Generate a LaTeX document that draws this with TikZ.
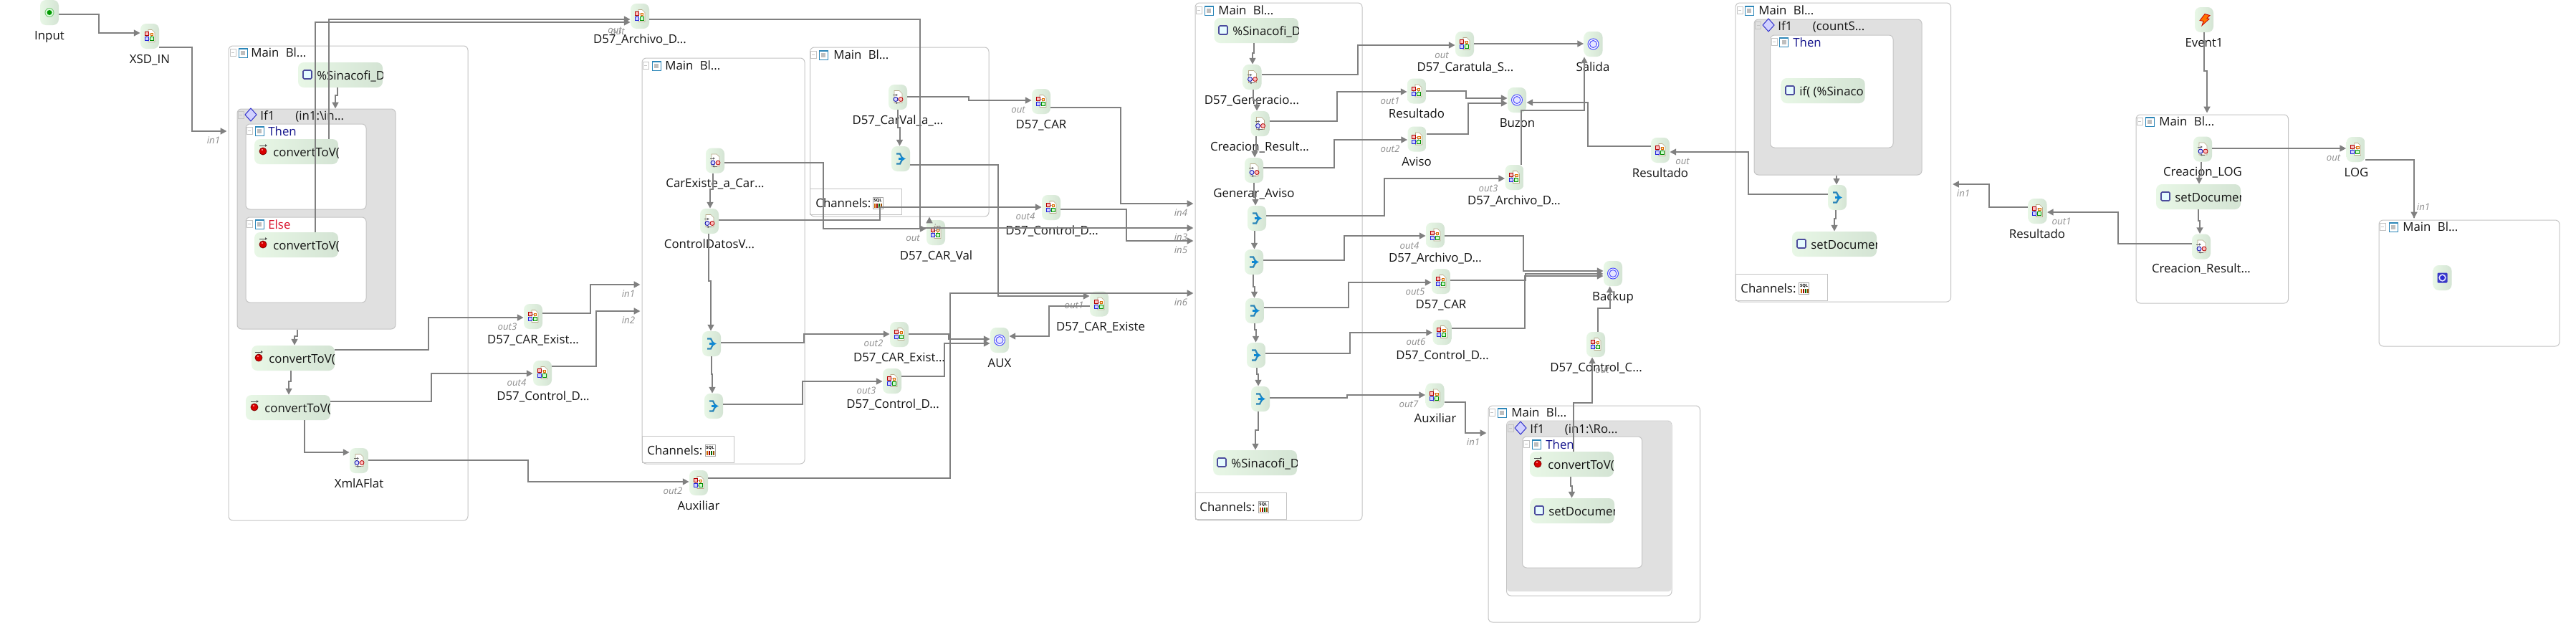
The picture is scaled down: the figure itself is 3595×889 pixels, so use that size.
\documentclass[tikz,border=0pt]{standalone}
\usepackage{fontspec}
\setmainfont{Open Sans}
\usetikzlibrary{arrows.meta,fit}
\definecolor{linegray}{HTML}{808080}
\definecolor{blockline}{HTML}{C4C4C4}
\definecolor{ifgrey}{HTML}{E0E0E0}
\definecolor{greenA}{HTML}{E8F7E6}
\definecolor{greenB}{HTML}{D4E4D4}
\definecolor{portgray}{HTML}{8E8E8E}
\definecolor{thennavy}{HTML}{14148C}
\definecolor{elsered}{HTML}{D8102A}
\definecolor{iconblue}{HTML}{2C86B8}
\definecolor{pagetan}{HTML}{B8A888}
\tikzset{
  x=0.5pt,y=-0.5pt,
  mainblock/.style={draw=blockline,line width=0.5pt,fill=white,rounded corners=3pt,inner sep=0pt},
  ifblock/.style={draw=blockline,line width=0.5pt,fill=ifgrey,rounded corners=3pt,inner sep=0pt},
  thenblock/.style={draw=blockline,line width=0.5pt,fill=white,rounded corners=3pt,inner sep=0pt},
  chanbox/.style={draw=blockline,line width=0.4pt,inner sep=0pt},
  gbox/.style={left color=greenA,right color=greenB,rounded corners=4pt,inner sep=0pt,draw=none},
  ibox/.style={gbox,minimum width=13pt,minimum height=17.5pt},
  lbltext/.style={font=\fontsize{8.4}{10}\selectfont,text=black!92,inner sep=0pt,anchor=base},
  headtext/.style={font=\fontsize{8.4}{10}\selectfont,text=black!92,inner sep=0pt,anchor=base west},
  porttext/.style={font=\fontsize{6.6}{8}\selectfont\itshape,text=portgray,inner sep=0pt,anchor=base},
  conn/.style={draw=linegray,line width=1pt,-{Triangle[length=4.4pt,width=4.4pt]}},
  gap/.style={shorten >=1pt},
}
% ---- icons (local px coordinates)
\newcommand{\icomap}[1]{\begin{scope}[shift={(#1)}]
 \draw[draw=pagetan,fill=white,line width=.3pt] (-2,-9)--(3,-9)--(7,-5)--(7,8)--(-2,8)--cycle;
 \draw[gray!70,line width=.25pt] (-4.5,-1)--(-4.5,1) (-2,-3)--(2,-3)--(2,1) (-2,3.5)--(0,3.5);
 \draw[red!70!black,fill=red!25,line width=.35pt] (-7,-6) rectangle (-2,-1);
 \draw[blue!70!gray,fill=blue!18,line width=.35pt] (-7,1) rectangle (-2,6);
 \draw[green!55!black,fill=green!20,line width=.35pt] (0,1) rectangle (5,6);
 \draw[orange!85!black,fill=orange!25,line width=.3pt] (1,-4) rectangle (4.5,-1);
\end{scope}}
\newcommand{\icotrans}[1]{\begin{scope}[shift={(#1)}]
 \draw[draw=pagetan,fill=white,line width=.3pt] (-5,-9)--(2,-9)--(6,-5)--(6,8)--(-5,8)--cycle;
 \draw[gray!80!black,line width=.35pt,-{Latex[length=1.5pt,width=1.8pt]}] (-7,-3)--(0,-3);
 \draw[gray!80!black,line width=.35pt,-{Latex[length=1.5pt,width=1.8pt]}] (3,8)--(-4,8);
 \draw[blue!65!black,fill=blue!15,line width=.4pt] (-3,3) circle (3);
 \draw[red!70!black,fill=red!25,line width=.4pt] (4,3) circle (3);
\end{scope}}
\newcommand{\icomerge}[1]{\begin{scope}[shift={(#1)}]
 \draw[color=iconblue,line width=1.1pt] (-6,-7)--(-1,-7)--(2,-1) (-6,7)--(-1,7)--(2,1);
 \draw[color=cyan!70!blue,line width=1.1pt,-{Latex[length=3pt,width=4pt]}] (-3,0)--(7,0);
\end{scope}}
\newcommand{\icodbl}[1]{\begin{scope}[shift={(#1)}]
 \draw[blue!70!white,fill=white,line width=.5pt] (0,0) circle (7.5);
 \draw[blue!70!white,fill=blue!10,line width=.5pt] (0,0) circle (5);
\end{scope}}
\newcommand{\icoinput}[1]{\begin{scope}[shift={(#1)}]
 \draw[green!60!black!50,fill=green!12,line width=.5pt] (0,0) circle (6);
 \fill[green!60!black] (0,0) circle (3.5);
\end{scope}}
\newcommand{\icored}[1]{\begin{scope}[shift={(#1)}]
 \draw[black!70,line width=.4pt,-{Latex[length=1.5pt,width=2pt]}] (-5,-8)--(6,-8);
 \draw[red!50!black,fill=red!85!black,line width=.4pt] (0,0) circle (5);
 \fill[red!35] (-1,-2) circle (1.2);
\end{scope}}
\newcommand{\icosq}[1]{\begin{scope}[shift={(#1)}]
 \draw[blue!45!black!70,fill=blue!14!cyan!10,line width=.8pt,rounded corners=.7pt] (-6,-6) rectangle (6,6);
\end{scope}}
\newcommand{\icoblock}[1]{\begin{scope}[shift={(#1)}]
 \draw[color=iconblue,fill=white,line width=.5pt] (-6,-6) rectangle (6,7);
 \fill[color=iconblue] (-6,-6) rectangle (6,-4.5);
 \fill[gray!50] (-3,-2) rectangle (3,4);
\end{scope}}
\newcommand{\icocoll}[1]{\begin{scope}[shift={(#1)}]
 \draw[blockline,line width=.35pt] (-4,-5) rectangle (4,5);
 \draw[blockline,line width=.35pt] (-2,0)--(2,0);
\end{scope}}
\newcommand{\icodiam}[1]{\begin{scope}[shift={(#1)}]
 \draw[blue!60!gray,fill=blue!18,line width=.5pt] (-8,0)--(0,-9)--(8,0)--(0,9)--cycle;
\end{scope}}
\newcommand{\icosql}[1]{\begin{scope}[shift={(#1)}]
 \draw[gray!70,fill=white,line width=.3pt] (-7,-8) rectangle (7,8);
 \node[inner sep=0pt,font=\fontsize{2.9}{3}\selectfont\bfseries] at (0,-3.5) {SQL};
 \fill[orange!80!black] (-5,1) rectangle (-3,7);
 \fill[red!60!black] (-2,1) rectangle (0,7);
 \fill[green!40!black] (1,1) rectangle (3,7);
 \fill[orange!60!black] (4,1) rectangle (6,7);
\end{scope}}
\newcommand{\icobolt}[1]{\begin{scope}[shift={(#1)}]
 \draw[red!80!black,fill=orange!90!red,line width=.4pt] (1,-8)--(8,-6)--(4,-2)--(7,-1)--(-3,8)--(-1,2)--(-6,1)--cycle;
\end{scope}}
\newcommand{\icostop}[1]{\begin{scope}[shift={(#1)}]
 \fill[blue!55!gray,rounded corners=.6pt] (-7,-7) rectangle (7,7);
 \fill[blue!10] (0,0) circle (5.2);
 \fill[blue!65!gray] (0,0) circle (3.4);
\end{scope}}
% ---- node builders
\newcommand{\inode}[3]{\node[ibox] (#1) at (#2) {}; #3{#1.center}}
\newcommand{\wnode}[8]{%
 \pgfmathsetmacro{\wnb}{#3+35}
 \node[gbox,fit={(#2,#3)(#4,\wnb)}] (#1) {};
 \pgfmathsetmacro{\wnic}{#3+17}
 #5{#6,\wnic}
 \pgfmathsetmacro{\wnt}{#3+24}
 \begin{scope}\clip (#2,#3) rectangle (#4,\wnb);
 \node[headtext] (#1-t) at (#7,\wnt) {#8};
 \end{scope}}
\newcommand{\lbl}[4]{\pgfmathsetmacro{\lbb}{#3+6}\node[lbltext] (#1-l) at (#2,\lbb) {#4};}
\newcount\portn
\newcommand{\port}[3]{\global\advance\portn by 1 \pgfmathsetmacro{\ptb}{#2+5}\node[porttext] (port\the\portn) at (#1,\ptb) {#3};}
\newcommand{\mainhead}[6]{% name, xcoll, xicon, xtext, y, text
 \icocoll{#2,#5}\icoblock{#3,#5}\pgfmathsetmacro{\hdb}{#5+6}\node[headtext] (#1-h) at (#4,\hdb) {#6};}
\newcommand{\thenhead}[7]{\icocoll{#2,#5}\icoblock{#3,#5}\pgfmathsetmacro{\hdb}{#5+7}\node[headtext,text=#7] (#1-h) at (#4,\hdb) {#6};}
\newcommand{\ifhead}[8]{% name, xcoll, xdiam, xif, y, xcond, cond
 \icocoll{#2,#5}\icodiam{#3,#5}\pgfmathsetmacro{\hdb}{#5+7}\node[headtext] (#1-h) at (#4,\hdb) {#8};\node[headtext] (#1-c) at (#6,\hdb) {#7};}
\newcommand{\chantxt}[4]{\pgfmathsetmacro{\chb}{#3+6}\node[headtext] (#1-t) at (#2,\chb) {Channels:};\icosql{#4,#3}}
\newcommand{\mbl}{Main\hspace{2.5pt} Bl...}
\begin{document}
\begin{tikzpicture}
\useasboundingbox (0,0) rectangle (3595,889);
\fill[white] (0,0) rectangle (3595,889);
% ===== containers
\node[mainblock,fit={(319,64)(653,726)}] (m1) {};
\mainhead{m1}{325}{339}{350}{73}{\mbl}
\node[ifblock,fit={(331,152)(552,459)}] (if1) {};
\ifhead{if1}{336}{350}{363}{160}{412}{(in1:\textbackslash in...}{If1}
\node[thenblock,fit={(343,173)(511,292)}] (th1) {};
\thenhead{th1}{348}{362}{374}{182}{Then}{thennavy}
\node[thenblock,fit={(343,303)(511,422)}] (el1) {};
\thenhead{el1}{348}{362}{374}{312}{Else}{elsered}

\node[mainblock,fit={(896,81)(1123,647)}] (m2) {};
\mainhead{m2}{901}{916}{928}{91}{\mbl}
\node[chanbox,fit={(896,608)(1024,645)}] (ch2) {};
\chantxt{ch2}{903}{628}{991}

\node[mainblock,fit={(1130.5,66)(1380,302)}] (m3) {};
\mainhead{m3}{1135}{1149}{1163}{76}{\mbl}
\node[chanbox,fit={(1130.5,263)(1258.5,299)}] (ch3) {};
\chantxt{ch3}{1138}{283}{1225}

\node[mainblock,fit={(1668,4)(1901,726)}] (m4) {};
\mainhead{m4}{1673}{1687}{1700}{14}{\mbl}
\node[chanbox,fit={(1668,687)(1795,724)}] (ch4) {};
\chantxt{ch4}{1674}{707}{1763}

\node[mainblock,fit={(2077,566)(2372.5,868)}] (m6) {};
\mainhead{m6}{2082}{2096}{2109}{575}{\mbl}
\node[thenblock,fit={(2102.6,587)(2333,831)}] (if6) {};
\fill[ifgrey,rounded corners=2pt] (2103,587.5) rectangle (2332.5,825);
\ifhead{if6}{2108}{2122}{2135}{597}{2183.5}{(in1:\textbackslash Ro...}{If1}
\node[thenblock,fit={(2124.6,609)(2291.6,792)}] (th6) {};
\thenhead{th6}{2130}{2144}{2157}{619}{Then}{thennavy}

\node[mainblock,fit={(2422,4)(2722.5,421)}] (m5) {};
\mainhead{m5}{2428}{2441}{2454}{14}{\mbl}
\node[ifblock,fit={(2448,27)(2682,244)}] (if5) {};
\ifhead{if5}{2453.5}{2468}{2481}{35}{2529.5}{(countS...}{If1}
\node[thenblock,fit={(2470.5,49)(2642,206)}] (th5) {};
\thenhead{th5}{2476}{2489.5}{2502}{58}{Then}{thennavy}
\node[chanbox,fit={(2422,382)(2550,419)}] (ch5) {};
\chantxt{ch5}{2429}{402}{2517.6}

\node[mainblock,fit={(2981,160)(3193.5,423)}] (m7) {};
\mainhead{m7}{2986}{3000}{3013}{169}{\mbl}
\node[mainblock,fit={(3320,307)(3572,483)}] (m8) {};
\mainhead{m8}{3325}{3340}{3353}{316}{\mbl}

% ===== wide nodes
\wnode{sin1}{416}{87}{534}{\icosq}{429}{442}{\%Sinacofi\_D}
\wnode{cthen}{355}{194}{472}{\icored}{367}{381}{convertToV(}
\wnode{celse}{355}{324}{472}{\icored}{367}{381}{convertToV(}
\wnode{cva}{351}{482}{467}{\icored}{361}{375}{convertToV(}
\wnode{cvb}{343}{551}{461}{\icored}{355}{369}{convertToV(}
\wnode{sin2}{1694.5}{25}{1812}{\icosq}{1707}{1720}{\%Sinacofi\_D}
\wnode{sin3}{1693}{628}{1810}{\icosq}{1705}{1718}{\%Sinacofi\_D}
\wnode{cv6}{2135}{630}{2252}{\icored}{2146}{2160}{convertToV(}
\wnode{sd6}{2135.7}{695}{2253}{\icosq}{2148}{2161}{setDocumen}
\wnode{if5n}{2485.6}{109}{2602.6}{\icosq}{2498}{2511}{if( (\%Sinaco}
\wnode{sd5}{2501}{323}{2619}{\icosq}{2514}{2527}{setDocumen}
\wnode{sd7}{3009}{257}{3127}{\icosq}{3022}{3035}{setDocumen}

% ===== icon nodes
\inode{input}{69,17.5}{\icoinput}
\inode{xsd}{209,50.5}{\icomap}
\inode{arch1}{893,22.5}{\icomap}
\inode{carexA}{744,441.5}{\icomap}
\inode{ctlA}{757,520.5}{\icomap}
\inode{xmlaf}{501,642.5}{\icotrans}
\inode{auxA}{975,673.5}{\icomap}
\inode{carexi}{998,224}{\icotrans}
\inode{ctldat}{990,308.5}{\icotrans}
\inode{mrg1}{993,479.5}{\icomerge}
\inode{mrg2}{996,566.5}{\icomerge}
\inode{carexB}{1255,466.5}{\icomap}
\inode{ctlB}{1245,531.5}{\icomap}
\inode{aux}{1395,474.5}{\icodbl}
\inode{carexist}{1534,424}{\icomap}
\inode{carval}{1253,135.5}{\icotrans}
\inode{mrg3}{1257,221.5}{\icomerge}
\inode{car}{1453,141.5}{\icomap}
\inode{ctlC}{1467,289.5}{\icomap}
\inode{carv}{1306,324.5}{\icomap}
\inode{gen}{1747.5,107.5}{\icotrans}
\inode{cre}{1758.5,172.5}{\icotrans}
\inode{gav}{1750,237.5}{\icotrans}
\inode{ma}{1754,304.5}{\icomerge}
\inode{mb}{1750,365.5}{\icomerge}
\inode{mc}{1751,433.5}{\icomerge}
\inode{md}{1753,495.5}{\icomerge}
\inode{me}{1759,556.5}{\icomerge}
\inode{cars}{2044,61.5}{\icomap}
\inode{salida}{2223.5,61.5}{\icodbl}
\inode{res1}{1977,127}{\icomap}
\inode{aviso}{1977.5,194}{\icomap}
\inode{buzon}{2117,139.5}{\icodbl}
\inode{arch3}{2113.5,247.5}{\icomap}
\inode{res2}{2317,209.5}{\icomap}
\inode{arch4}{2003,328}{\icomap}
\inode{car5}{2011,392.5}{\icomap}
\inode{ctl6}{2012.5,463.5}{\icomap}
\inode{aux7}{2002.5,552}{\icomap}
\inode{backup}{2251,381.5}{\icodbl}
\inode{ctlc}{2227,480.5}{\icomap}
\inode{m5merge}{2564,275.5}{\icomerge}
\inode{res3}{2843.5,294.5}{\icomap}
\inode{event}{3076,27.5}{\icobolt}
\inode{clog}{3074,208}{\icotrans}
\inode{cres}{3072,344}{\icotrans}
\inode{log}{3287.5,208.5}{\icomap}
\inode{stopn}{3408.5,387.5}{\icostop}

% ===== labels
\lbl{input}{69}{49}{Input}
\lbl{xsd}{209}{82}{XSD\_IN}
\lbl{arch1}{893}{54}{D57\_Archivo\_D...}
\lbl{carexA}{744}{473}{D57\_CAR\_Exist...}
\lbl{ctlA}{758}{552}{D57\_Control\_D...}
\lbl{xmlaf}{501}{674}{XmlAFlat}
\lbl{auxA}{975}{705}{Auxiliar}
\lbl{carexi}{998}{255}{CarExiste\_a\_Car...}
\lbl{ctldat}{990}{340}{ControlDatosV...}
\lbl{carexB}{1255}{498}{D57\_CAR\_Exist...}
\lbl{ctlB}{1246}{563}{D57\_Control\_D...}
\lbl{aux}{1395}{506}{AUX}
\lbl{carexist}{1536}{455}{D57\_CAR\_Existe}
\lbl{carval}{1253}{167}{D57\_CarVal\_a\_...}
\lbl{car}{1453}{173}{D57\_CAR}
\lbl{ctlC}{1468}{321}{D57\_Control\_D...}
\lbl{carv}{1306.5}{356}{D57\_CAR\_Val}
\lbl{gen}{1747}{139}{D57\_Generacio...}
\lbl{cre}{1758}{204}{Creacion\_Result...}
\lbl{gav}{1750}{269}{Generar\_Aviso}
\lbl{cars}{2045}{93}{D57\_Caratula\_S...}
\lbl{salida}{2223}{93}{Salida}
\lbl{res1}{1977}{158}{Resultado}
\lbl{aviso}{1977}{225}{Aviso}
\lbl{buzon}{2117.5}{171}{Buzon}
\lbl{arch3}{2113}{279}{D57\_Archivo\_D...}
\lbl{res2}{2317}{241}{Resultado}
\lbl{arch4}{2003}{359}{D57\_Archivo\_D...}
\lbl{car5}{2011}{424}{D57\_CAR}
\lbl{ctl6}{2013}{495}{D57\_Control\_D...}
\lbl{aux7}{2003}{583}{Auxiliar}
\lbl{backup}{2251}{413}{Backup}
\lbl{ctlc}{2227.5}{512}{D57\_Control\_C...}
\lbl{res3}{2843}{326}{Resultado}
\lbl{event}{3076}{59}{Event1}
\lbl{clog}{3074}{239}{Creacion\_LOG}
\begin{scope}\clip (3000,360) rectangle (3150,381);
\lbl{cres}{3072}{374}{Creacion\_Result...}
\end{scope}
\lbl{log}{3288.5}{240}{LOG}

% ===== port labels
\port{298}{195}{in1}
\port{858}{41}{out}
\port{862}{43}{out}
\port{708}{455}{out3}
\port{721}{533}{out4}
\port{877}{409}{in1}
\port{877}{446}{in2}
\port{939}{684}{out2}
\port{1219}{478}{out2}
\port{1209}{544}{out3}
\port{1499}{425}{out1}
\port{1421}{152}{out}
\port{1431}{301}{out4}
\port{1274}{331}{out}
\port{1308}{317}{in}
\port{1648}{296}{in4}
\port{1648}{330}{in3}
\port{1648}{348}{in5}
\port{1648}{421}{in6}
\port{2012}{76}{out}
\port{1940}{140}{out1}
\port{1940}{207}{out2}
\port{2077}{262}{out3}
\port{2348}{224}{out}
\port{1967}{342}{out4}
\port{1975}{406}{out5}
\port{1976}{476}{out6}
\port{1966}{563}{out7}
\port{2056}{616}{in1}
\port{2236}{515}{out}
\port{2740}{269}{in1}
\port{2877}{308}{out1}
\port{3256.5}{219}{out}
\port{3382}{288}{in1}

% ===== connectors
\draw[conn] (input.east|-0,20) -- (138,20) -- (138,46) -- (xsd.west|-0,46);
\draw[conn,gap] (xsd.east|-0,66) -- (268,66) -- (268,183) -- (m1.west|-0,183);
\draw[conn] (sin1.south-|471,0) -- (471,133) -- (468,133) -- (if1.north-|468,0);
\draw[conn] (cthen.north-|459,0) -- (459,27) -- (arch1.west|-0,27);
\draw[conn] (celse.north-|440,0) -- (440,31) -- (arch1.west|-0,31);
\draw[conn] (if1.south-|414.5,0) -- (414.5,469) -- (411,469) -- (cva.north-|411,0);
\draw[conn] (cva.south-|406,0) -- (406,532) -- (403,532) -- (cvb.north-|403,0);
\draw[conn] (cvb.south-|425,0) -- (425,631) -- (xmlaf.west|-0,631);
\draw[conn] (xmlaf.east|-0,642) -- (736.5,642) -- (736.5,672) -- (auxA.west|-0,672);
\draw[conn] (cva.east|-0,488) -- (598,488) -- (598,443) -- (carexA.west|-0,443);
\draw[conn,gap] (carexA.east|-0,437) -- (824,437) -- (824,397) -- (m2.west|-0,397);
\draw[conn] (cvb.east|-0,560) -- (602,560) -- (602,521) -- (ctlA.west|-0,521);
\draw[conn,gap] (ctlA.east|-0,511) -- (832,511) -- (832,434) -- (m2.west|-0,434);
\draw[conn] (carexi.south-|995,0) -- (995,264) -- (991,264) -- (ctldat.north-|991,0);
\draw[conn] (ctldat.south-|989,0) -- (989,392) -- (992,392) -- (mrg1.north-|992,0);
\draw[conn] (mrg1.south-|993,0) -- (993,522) -- (994,522) -- (mrg2.north-|994,0);
\draw[conn] (mrg1.east|-0,478) -- (1122,478) -- (1122,466) -- (carexB.west|-0,466);
\draw[conn] (mrg2.east|-0,564) -- (1120,564) -- (1120,532) -- (ctlB.west|-0,532);
\draw[conn] (carexB.east|-0,466) -- (1324,466) -- (1324,473) -- (aux.west|-0,473);
\draw[conn] (ctlB.east|-0,525) -- (1318,525) -- (1318,479) -- (aux.west|-0,479);
\draw[conn,gap] (auxA.east|-0,667) -- (1326,667) -- (1326,409) -- (m4.west|-0,409);
\draw[conn] (carexist.west|-0,427) -- (1464,427) -- (1464,469) -- (aux.east|-0,469);
\draw[conn] (carval.south-|1252.5,0) -- (1252.5,178) -- (1255.5,178) -- (mrg3.north-|1255.5,0);
\draw[conn] (carval.east|-0,135) -- (1352,135) -- (1352,140) -- (car.west|-0,140);
\draw[conn,gap] (car.east|-0,150) -- (1564,150) -- (1564,284) -- (m4.west|-0,284);
\draw[conn,gap] (arch1.east|-0,27) -- (1284,27) -- (1284,318) -- (m4.west|-0,318);
\draw[conn] (carexi.east|-0,227) -- (1149,227) -- (1149,319) -- (carv.west|-0,319);
\draw[conn] (carv.north-|1297,0) -- (m3.south-|1297,0);
\draw[conn] (ctldat.east|-0,307) -- (1228,307) -- (1228,289) -- (ctlC.west|-0,289);
\draw[conn,gap] (ctlC.east|-0,292) -- (1572,292) -- (1572,336) -- (m4.west|-0,336);
\draw[conn] (mrg3.east|-0,230) -- (1393,230) -- (1393,413) -- (carexist.west|-0,413);
\draw[conn] (sin2.south-|1749.5,0) -- (1749.5,74) -- (1748,74) -- (gen.north-|1748,0);
\draw[conn] (gen.south-|1749,0) -- (1749,140) -- (1754,140) -- (cre.north-|1754,0);
\draw[conn] (cre.south-|1753,0) -- (1753,210) -- (1751,210) -- (gav.north-|1751,0);
\draw[conn] (gav.south-|1749.5,0) -- (1749.5,275) -- (1752,275) -- (ma.north-|1752,0);
\draw[conn] (ma.south-|1751,0) -- (1751,332) -- (1750.5,332) -- (mb.north-|1750.5,0);
\draw[conn] (mb.south-|1749,0) -- (1749,400) -- (1750.5,400) -- (mc.north-|1750.5,0);
\draw[conn] (mc.south-|1751,0) -- (1751,460) -- (1752.5,460) -- (md.north-|1752.5,0);
\draw[conn] (md.south-|1754,0) -- (1754,522) -- (1756,522) -- (me.north-|1756,0);
\draw[conn] (me.south-|1756,0) -- (1756,600) -- (1752,600) -- (sin3.north-|1752,0);
\draw[conn] (gen.east|-0,104) -- (1894.5,104) -- (1894.5,63) -- (cars.west|-0,63);
\draw[conn] (cars.east|-0,61) -- (salida.west|-0,61);
\draw[conn] (cre.east|-0,169) -- (1866,169) -- (1866,128) -- (res1.west|-0,128);
\draw[conn] (res1.east|-0,127) -- (2046,127) -- (2046,137) -- (buzon.west|-0,137);
\draw[conn] (gav.east|-0,234) -- (1862,234) -- (1862,195) -- (aviso.west|-0,195);
\draw[conn] (aviso.east|-0,187) -- (2048.5,187) -- (2048.5,144) -- (buzon.west|-0,144);
\draw[conn] (ma.east|-0,301) -- (1932,301) -- (1932,249) -- (arch3.west|-0,249);
\draw[conn] (arch3.north-|2123,0) -- (2123,154) -- (2211,154) -- (salida.south-|2211,0);
\draw[conn] (res2.west|-0,204) -- (2216,204) -- (2216,143) -- (buzon.east|-0,143);
\draw[conn] (m5merge.west|-0,271) -- (2440,271) -- (2440,212) -- (res2.east|-0,212);
\draw[conn] (mb.east|-0,363) -- (1876,363) -- (1876,329) -- (arch4.west|-0,329);
\draw[conn] (mc.east|-0,429) -- (1882,429) -- (1882,394) -- (car5.west|-0,394);
\draw[conn] (md.east|-0,493) -- (1884,493) -- (1884,464) -- (ctl6.west|-0,464);
\draw[conn] (me.east|-0,555) -- (1880,555) -- (1880,551) -- (aux7.west|-0,551);
\draw[conn,gap] (aux7.east|-0,561) -- (2045,561) -- (2045,604) -- (m6.west|-0,604);
\draw[conn] (arch4.east|-0,329) -- (2126,329) -- (2126,378) -- (backup.west|-0,378);
\draw[conn] (car5.east|-0,391) -- (2129,391) -- (2129,382) -- (backup.west|-0,382);
\draw[conn] (ctl6.east|-0,458) -- (2128,458) -- (2128,385) -- (backup.west|-0,385);
\draw[conn] (ctlc.north-|2230,0) -- (2230,430) -- (2246.6,430) -- (backup.south-|2246.6,0);
\draw[conn] (cv6.north-|2196,0) -- (2196,562) -- (2222,562) -- (ctlc.south-|2222,0);
\draw[conn] (cv6.south-|2192,0) -- (2192,678) -- (2193.5,678) -- (sd6.north-|2193.5,0);
\draw[conn] (if5.south-|2563,0) -- (m5merge.north-|2563,0);
\draw[conn] (m5merge.south-|2562,0) -- (2562,305) -- (2560,305) -- (sd5.north-|2560,0);
\draw[conn,gap] (res3.west|-0,289) -- (2776,289) -- (2776,257) -- (m5.east|-0,257);
\draw[conn] (cres.west|-0,340) -- (2956,340) -- (2956,296) -- (res3.east|-0,296);
\draw[conn,gap] (event.south-|3076,0) -- (3076,99) -- (3080,99) -- (m7.north-|3080,0);
\draw[conn] (clog.south-|3072,0) -- (3072,245) -- (3069,245) -- (sd7.north-|3069,0);
\draw[conn] (sd7.south-|3068,0) -- (3068,308) -- (3070,308) -- (cres.north-|3070,0);
\draw[conn] (clog.east|-0,207) -- (log.west|-0,207);
\draw[conn,gap] (log.east|-0,223) -- (3369,223) -- (3369,304) -- (m8.north-|3369,0);
\end{tikzpicture}
\end{document}
